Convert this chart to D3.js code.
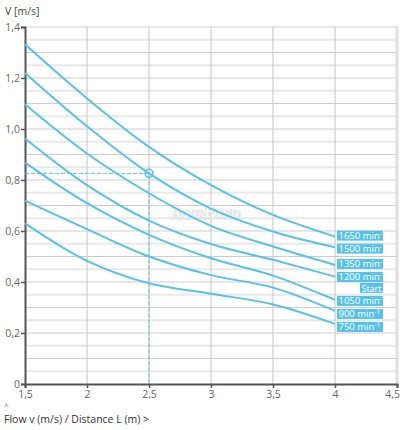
<!DOCTYPE html>
<html>
<head>
<meta charset="utf-8">
<script src="https://cdn.jsdelivr.net/npm/d3@7"></script>
<style>
  body { margin: 0; background: #fff; }
  svg { display: block; font-family: "Open Sans", "Noto Sans", sans-serif; }
</style>
</head>
<body>
<script>
// flow values (x) where the curves were read
const flowValues = [1.5, 2, 2.5, 3, 3.5, 4];

// speed curves, V [m/s]
const v1650 = [1.332, 1.12, 0.93, 0.78, 0.663, 0.578];
const v1500 = [1.22, 1.011, 0.826, 0.688, 0.598, 0.536];
const v1350 = [1.097, 0.904, 0.748, 0.62, 0.539, 0.467];
const v1200 = [0.963, 0.78, 0.641, 0.549, 0.487, 0.421];
const v1050 = [0.868, 0.709, 0.585, 0.493, 0.425, 0.33];
const v900 = [0.719, 0.607, 0.5, 0.427, 0.378, 0.287];
const v750 = [0.63, 0.483, 0.395, 0.354, 0.312, 0.236];

const speedLabels = ["1650", "1500", "1350", "1200", "1050", "900", "750"];
const speedSeries = [v1650, v1500, v1350, v1200, v1050, v900, v750];
const startAfter = "1200";

// operating point (flow, V)
const operatingPoint = [2.5, 0.826];

const xTicks = [1.5, 2, 2.5, 3, 3.5, 4, 4.5];
const yTicks = [0, 0.2, 0.4, 0.6, 0.8, 1.0, 1.2, 1.4];

const canvWidth = 400, canvHeight = 430;
const margin = {top: 27, right: 3, bottom: 46, left: 25};
const width = canvWidth - margin.left - margin.right;
const height = canvHeight - margin.top - margin.bottom;
const blue = "#56c2ec";

const svg = d3.select("body").append("svg")
    .attr("width", canvWidth)
    .attr("height", canvHeight);

const xScale = d3.scaleLinear().domain([1.5, 4.5]).range([0, width]);
const yScale = d3.scaleLinear().domain([0, 1.4]).range([height, 0]);
const yFormat = d => d === 0 ? "0" : d3.format(".1f")(d).replace(".", ",");
const xFormat = d => String(d).replace(".", ",");

const chart = svg.append("g")
    .attr("transform", `translate(${margin.left},${margin.top})`);

// horizontal grid every 0.05
const grid = chart.append("g").attr("id", "grid");
grid.selectAll("line.h")
    .data(d3.range(1, 29))
    .enter().append("line")
    .attr("class", "h")
    .attr("x1", 0).attr("x2", width)
    .attr("y1", i => yScale(i * 0.05)).attr("y2", i => yScale(i * 0.05))
    .attr("stroke", i => (i % 2 === 0 && i < 28) ? "#cdcdcd" : "#e8e8e8")
    .attr("stroke-width", i => (i % 2 === 0 && i < 28) ? 1 : 2);

grid.selectAll("line.v")
    .data(xTicks.slice(1, -1))
    .enter().append("line")
    .attr("class", "v")
    .attr("x1", d => xScale(d)).attr("x2", d => xScale(d))
    .attr("y1", 0).attr("y2", height)
    .attr("stroke", "#c4c4c4");

// right frame
grid.append("line")
    .attr("x1", xScale(4.5)).attr("x2", xScale(4.5))
    .attr("y1", -1).attr("y2", height)
    .attr("stroke", "#dedede")
    .attr("stroke-width", 3);

// watermark
const wm = chart.append("g")
    .attr("transform", `translate(${xScale(2.95)},${yScale(0.655)})`)
    .attr("font-family", "'DejaVu Serif', serif")
    .attr("font-size", "14px")
    .attr("text-anchor", "middle")
    .style("font-variant", "small-caps");
wm.append("text").attr("x", 0.6).attr("y", 0.6)
    .attr("fill", "#cfcfcf").attr("stroke", "#e4e4e4").attr("stroke-width", 3)
    .text("AquaPond");
wm.append("text").attr("fill", "#ffffff").text("AquaPond");

// axes
const yAxis = d3.axisLeft(yScale).tickValues(yTicks).tickSize(4).tickFormat(yFormat);
const xAxis = d3.axisBottom(xScale).tickValues(xTicks).tickSize(4).tickFormat(xFormat);

const yg = chart.append("g").attr("id", "yAxis").call(yAxis);
const xg = chart.append("g").attr("id", "xAxis")
    .attr("transform", `translate(0,${height})`).call(xAxis);

[yg, xg].forEach(g => {
    g.select(".domain").attr("stroke", "#555").attr("stroke-width", 2);
    g.selectAll(".tick line").attr("stroke", "#555").attr("stroke-width", 1.5);
    g.selectAll(".tick text").attr("fill", "#666").attr("font-size", "10.5px")
        .attr("font-family", "'Open Sans', sans-serif");
});
yg.selectAll(".tick text").attr("x", -5);
xg.selectAll(".tick text").attr("y", 7);
xg.selectAll(".tick text").filter(d => d === 4.5)
    .attr("text-anchor", "end").attr("x", 2.5);

// dashed guides to operating point
chart.append("path")
    .attr("d", `M0,${yScale(operatingPoint[1])}H${xScale(operatingPoint[0])}V${height}`)
    .attr("fill", "none")
    .attr("stroke", blue)
    .attr("stroke-width", 1)
    .attr("stroke-dasharray", "4,2");

// curves
const line = d3.line()
    .x((d, i) => xScale(flowValues[i]))
    .y(d => yScale(d))
    .curve(d3.curveCatmullRom.alpha(0.5));

chart.append("g").attr("id", "curves")
    .selectAll("path")
    .data(speedSeries)
    .enter().append("path")
    .attr("d", line)
    .attr("fill", "none")
    .attr("stroke", blue)
    .attr("stroke-width", 2);

chart.append("circle")
    .attr("cx", xScale(operatingPoint[0]))
    .attr("cy", yScale(operatingPoint[1]))
    .attr("r", 4)
    .attr("fill", "none")
    .attr("stroke", blue)
    .attr("stroke-width", 1.5);

// end labels
const labels = chart.append("g").attr("id", "labels");
const boxH = 10, boxW = 46;
const labelX = xScale(4) + 2;
let nextTop = -Infinity;
speedLabels.forEach((name, i) => {
    const series = speedSeries[i];
    const top = Math.max(yScale(series[series.length - 1]) - 6, nextTop);
    labels.append("rect")
        .attr("x", labelX).attr("y", top)
        .attr("width", boxW).attr("height", boxH)
        .attr("fill", blue);
    const t = labels.append("text")
        .attr("x", labelX + 1.5).attr("y", top + 8.4)
        .attr("fill", "#fff")
        .attr("font-size", "9.5px");
    t.append("tspan").text(name + " min");
    t.append("tspan").attr("dy", -3).attr("font-size", "6.5px").text("-1");
    nextTop = top + boxH + 3;
    if (name === startAfter) {
        const sTop = top + boxH + 1;
        labels.append("rect")
            .attr("x", labelX + boxW - 23).attr("y", sTop)
            .attr("width", 23).attr("height", boxH)
            .attr("fill", blue);
        labels.append("text")
            .attr("x", labelX + boxW - 1.5).attr("y", sTop + 8.6)
            .attr("text-anchor", "end")
            .attr("fill", "#fff")
            .attr("font-size", "9px")
            .text("Start");
        nextTop = sTop + boxH + 3;
    }
});

// titles
svg.append("text")
    .attr("x", 5).attr("y", 15)
    .attr("fill", "#444")
    .attr("font-size", "10.5px")
    .text("V [m/s]");

svg.append("text")
    .attr("x", 4).attr("y", 409)
    .attr("fill", "#666")
    .attr("font-size", "8px")
    .text("^");

svg.append("text")
    .attr("x", 4).attr("y", 423)
    .attr("fill", "#333")
    .attr("font-size", "10.5px")
    .text("Flow v (m/s) / Distance L (m) >");
</script>
</body>
</html>
